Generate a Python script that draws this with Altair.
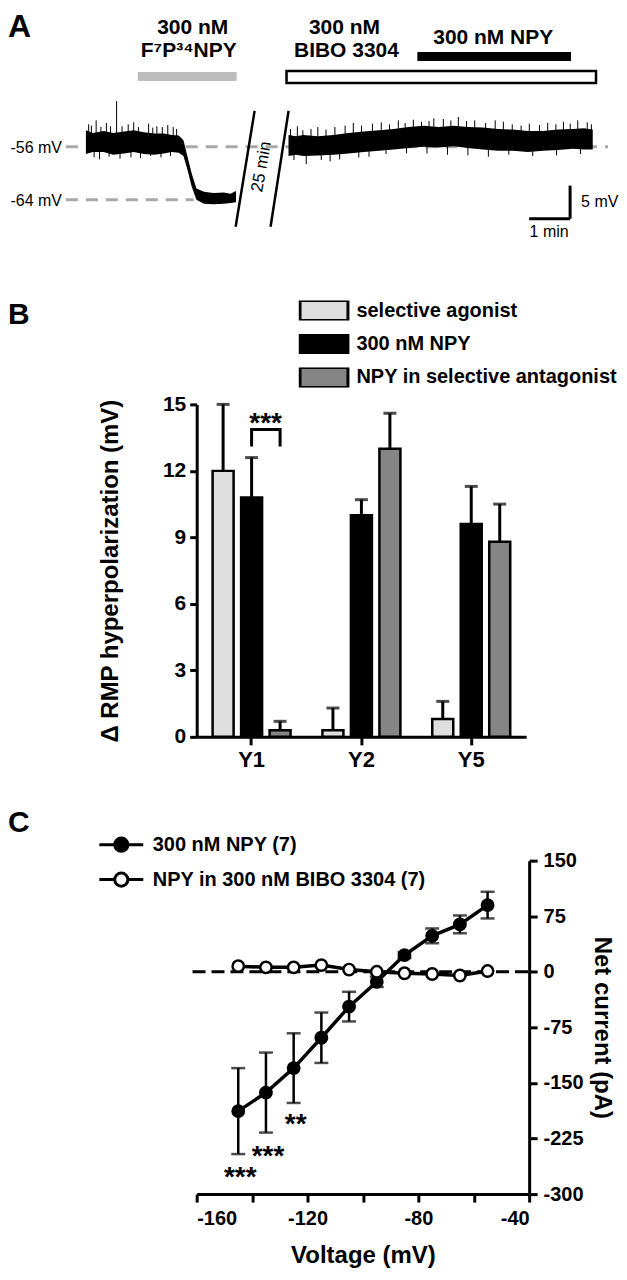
import altair as alt
import pandas as pd

FONT = "Liberation Sans, Arial, Helvetica, sans-serif"

# ---------------- Panel A: membrane potential trace ----------------
# display time (s) and upper / lower envelope of the noisy trace (mV)
seg1_t = [0, 10, 26, 40, 56, 70, 85, 100, 114, 126, 136, 143, 149, 155, 162, 173, 187, 202, 212, 220]
seg1_hi = [-53.5, -53.9, -53.6, -53.9, -53.7, -53.5, -53.8, -54.0, -54.0, -54.2, -54.3, -55.0, -57.5, -60.0,
           -62.3, -62.8, -63.0, -62.9, -63.1, -62.7]
seg1_lo = [-57.1, -56.8, -56.8, -57.2, -57.0, -56.8, -57.1, -57.2, -57.0, -56.8, -56.9, -57.4, -59.5, -62.0,
           -64.0, -64.6, -64.7, -64.6, -64.5, -64.4]
seg2_t = [297, 308, 319, 340, 363, 385, 407, 430, 451, 473, 495, 517, 539, 560, 582, 604, 626, 648, 670, 692,
          714, 730, 743]
seg2_hi = [-54.2, -54.4, -54.2, -54.4, -54.2, -53.9, -53.7, -53.5, -53.3, -53.0, -52.8, -53.0, -52.8, -53.0,
           -53.1, -53.3, -53.4, -53.6, -53.6, -53.4, -53.3, -53.2, -53.4]
seg2_lo = [-57.4, -57.2, -57.4, -57.3, -57.2, -57.0, -56.8, -56.6, -56.4, -56.2, -56.0, -56.1, -55.9, -56.2,
           -56.4, -56.6, -56.6, -56.8, -56.6, -56.5, -56.3, -56.4, -56.4]
# noise spikes: time (s) and tip (mV)
spike_t = [4, 8, 15, 22, 30, 36, 45, 53, 62, 70, 77, 92, 98, 104, 112, 120, 128, 133,
           12, 20, 34, 50, 66, 80, 95, 110, 124,
           300, 310, 318, 330, 340, 352, 365, 380, 392, 404, 420, 433, 445, 458, 468, 480, 492, 503, 510,
           524, 535, 546, 558, 570, 586, 600, 612, 625, 638, 650, 665, 677, 689, 700, 710, 721, 735, 741,
           305, 323, 345, 358, 372, 400, 415, 440, 470, 500, 530, 560, 590, 620, 655, 690, 725]
spike_v = [-52.6, -52.8, -52.0, -53.0, -52.4, -52.9, -49.1, -52.9, -52.6, -52.3, -53.0, -52.5, -53.1, -52.9,
           -53.0, -52.7, -53.0, -53.3,
           -57.6, -57.9, -57.5, -57.8, -57.6, -57.7, -57.4, -57.6, -57.4,
           -53.3, -52.9, -53.5, -53.3, -53.0, -53.4, -53.0, -52.8, -52.4, -52.8, -52.5, -52.3, -52.6, -52.0,
           -52.4, -51.9, -52.2, -52.1, -51.7, -51.8, -52.0, -51.5, -52.1, -52.0, -52.4, -52.0, -52.2, -52.6,
           -52.8, -52.5, -52.7, -52.4, -52.6, -52.2, -52.5, -52.0, -52.3, -52.6,
           -58.0, -58.6, -58.0, -58.2, -57.9, -57.6, -57.5, -57.1, -57.0, -57.0, -57.2, -57.3, -57.5, -57.2,
           -57.4, -57.3, -57.1]
ref_levels = [-56, -64]
ref_end_t = [765.4, 158]
agonist_t = [76.1, 221.0]      # 300 nM F7P34NPY application
bibo_t = [294.1, 747.8]        # 300 nM BIBO 3304
npy_t = [485.9, 711.2]         # 300 nM NPY
break_t = [[219.5, 247.3], [270.7, 297.1]]
break_v = [-68.08, -50.57]
scalebar_t = [649.8, 709.8]    # 1 min
scalebar_v = [-66.87, -61.87]  # 5 mV

# ---------------- Panel B: bar chart ----------------
receptors = ["Y1", "Y2", "Y5"]
groups = ["selective agonist", "300 nM NPY", "NPY in selective antagonist"]
agonist_mean = [12.0, 0.3, 0.8]
agonist_sem = [3.0, 1.0, 0.8]
npy_mean = [10.8, 10.0, 9.6]
npy_sem = [1.8, 0.7, 1.7]
antag_mean = [0.3, 13.0, 8.8]
antag_sem = [0.4, 1.6, 1.7]
group_colors = ["#dedede", "#000000", "#858585"]

# ---------------- Panel C: I-V curve ----------------
voltage = [-145, -135, -125, -115, -105, -95, -85, -75, -65, -55]
npy_i = [-188, -163, -130, -89, -47, -13.5, 22.5, 48.5, 64, 90]
npy_se = [58, 54, 47, 34, 20, 7, 4, 10, 12, 18]
bibo_i = [7.6, 6, 6, 9, 3, 0, -2, -3, -5, 1]
series = ["300 nM NPY (7)", "NPY in 300 nM BIBO 3304 (7)"]
star_v = [-145, -135, -125]
star_i = [-269.5, -240, -198]
star_txt = ["***", "***", "**"]

one = pd.DataFrame({"k": [0]})
NOVIEW = alt.ViewBackground(strokeWidth=0, stroke="transparent")

# ======================= Panel A =======================
W_A, H_A = 412, 232
T0, T1 = 162.4, 765.4
V0, V1 = -70.19, -35.17
sx = alt.Scale(domain=[T0, T1], nice=False, zero=False)
sy = alt.Scale(domain=[V0, V1], nice=False, zero=False)


def X(f):
    return alt.X(f, type="quantitative", scale=sx, axis=None)


def Y(f):
    return alt.Y(f, type="quantitative", scale=sy, axis=None)


trace = pd.DataFrame({
    "seg": ["a"] * len(seg1_t) + ["b"] * len(seg2_t),
    "t": seg1_t + seg2_t,
    "hi": seg1_hi + seg2_hi,
    "lo": seg1_lo + seg2_lo,
})
spikes = pd.DataFrame({"t": spike_t, "v": spike_v})
refl = pd.DataFrame({"t": [-29.3, -29.3], "t2": ref_end_t, "v": ref_levels})
breaks = pd.DataFrame({"t": [b[0] for b in break_t], "t2": [b[1] for b in break_t],
                       "v": [break_v[0]] * 2, "v2": [break_v[1]] * 2})
sbar = pd.DataFrame({"t": [scalebar_t[0], scalebar_t[1]], "t2": [scalebar_t[1], scalebar_t[1]],
                     "v": [scalebar_v[0], scalebar_v[0]], "v2": [scalebar_v[0], scalebar_v[1]]})

a_ref = alt.Chart(refl).mark_rule(color="#a8a8a8", strokeWidth=3, strokeDash=[12, 8]).encode(
    x=X("t"), x2="t2", y=Y("v"))
a_trace = alt.Chart(trace).mark_area(color="black", interpolate="linear").encode(
    x=X("t"), y=Y("hi"), y2="lo", detail="seg:N")
a_spk = alt.Chart(spikes).mark_rule(color="black", strokeWidth=1).encode(
    x=X("t"), y=Y("v"), y2=alt.datum(-55.4))
a_brk = alt.Chart(breaks).mark_rule(color="black", strokeWidth=2.5).encode(
    x=X("t"), x2="t2", y=Y("v"), y2="v2")
a_sb = alt.Chart(sbar).mark_rule(color="black", strokeWidth=3).encode(
    x=X("t"), x2="t2", y=Y("v"), y2="v2")
a_ag = alt.Chart(pd.DataFrame({"t": [agonist_t[0]], "t2": [agonist_t[1]]})).mark_rect(color="#bdbdbd").encode(
    x=X("t"), x2="t2", y=alt.value(63), y2=alt.value(72))
a_bibo = alt.Chart(pd.DataFrame({"t": [bibo_t[0]], "t2": [bibo_t[1]]})).mark_rect(
    fill="white", stroke="black", strokeWidth=2.5).encode(
    x=X("t"), x2="t2", y=alt.value(62), y2=alt.value(74))
a_npy = alt.Chart(pd.DataFrame({"t": [npy_t[0]], "t2": [npy_t[1]]})).mark_rect(color="black").encode(
    x=X("t"), x2="t2", y=alt.value(43), y2=alt.value(52))


def label(txt, x, y, size, weight="bold", align="center", angle=0, baseline="alphabetic"):
    kw = dict(text=txt, fontSize=size, fontWeight=weight, align=align, baseline=baseline,
              font=FONT, color="black")
    if angle:
        kw["angle"] = angle
        kw["baseline"] = "middle"
    return alt.Chart(one).mark_text(**kw).encode(x=alt.value(x), y=alt.value(y))


a_txt = [
    label("A", -189, 3, 32, align="left", baseline="top"),
    label("300 nM", -4, 8, 21, baseline="top"),
    label("F\u2077P\u00b3\u2074NPY", -8, 31, 21, baseline="top"),
    label("300 nM", 148, 8, 21, baseline="top"),
    label("BIBO 3304", 150, 31, 21, baseline="top"),
    label("300 nM NPY", 297, 18, 21, baseline="top"),
    label("-56 mV", -135, 144, 16, weight="normal", align="right"),
    label("-64 mV", -135, 197, 16, weight="normal", align="right"),
    label("25 min", 65, 158, 17, weight="normal", angle=280),
    label("5 mV", 385, 198, 16, weight="normal", align="left"),
    label("1 min", 353, 228, 16, weight="normal"),
]

panelA = alt.layer(a_ref, a_trace, a_spk, a_brk, a_sb, a_ag, a_bibo, a_npy, *a_txt).properties(
    width=W_A, height=H_A, view=NOVIEW)

# ======================= Panel B =======================
rowsB = []
for gi, (m, s) in enumerate([(agonist_mean, agonist_sem), (npy_mean, npy_sem), (antag_mean, antag_sem)]):
    for ri, r in enumerate(receptors):
        rowsB.append({"receptor": r, "group": groups[gi], "mean": m[ri], "top": m[ri] + s[ri]})
dfB = pd.DataFrame(rowsB)

xB = alt.X("receptor:N", sort=receptors, title=None,
           scale=alt.Scale(paddingInner=0.29, paddingOuter=0.145),
           axis=alt.Axis(labelAngle=0, labelFontSize=22, labelFontWeight="bold", labelColor="black",
                         tickSize=8, tickWidth=3, tickColor="black", domainWidth=3, domainColor="black",
                         labelPadding=5, labelFont=FONT))
xoB = alt.XOffset("group:N", sort=groups, scale=alt.Scale(domain=groups, paddingInner=0.263, paddingOuter=0))
yScaleB = alt.Scale(domain=[0, 15], nice=False)
yB = alt.Y("mean:Q", scale=yScaleB, title="\u0394 RMP hyperpolarization (mV)",
           axis=alt.Axis(values=[0, 3, 6, 9, 12, 15], grid=False, labelFontSize=21, labelFontWeight="bold",
                         labelColor="black", tickSize=7, tickWidth=3, tickColor="black", domainWidth=3,
                         domainColor="black", labelPadding=4, titleFontSize=24, titleFontWeight="bold",
                         titleColor="black", titlePadding=40, labelFont=FONT, titleFont=FONT))

b_bars = alt.Chart(dfB).mark_bar(stroke="black", strokeWidth=2.5).encode(
    x=xB, xOffset=xoB, y=yB,
    fill=alt.Fill("group:N", sort=groups, scale=alt.Scale(domain=groups, range=group_colors),
                  legend=alt.Legend(orient="none", legendX=102, legendY=-104, title=None,
                                    symbolType="M-1,-0.4167H1V0.4167H-1Z", symbolSize=2304,
                                    symbolStrokeColor="black", symbolStrokeWidth=3,
                                    labelFontSize=20, labelFontWeight="bold", labelColor="black",
                                    labelFont=FONT, labelOffset=7, clipHeight=20, rowPadding=13.5,
                                    padding=0, labelLimit=400)))
b_err = alt.Chart(dfB).mark_rule(color="black", strokeWidth=3).encode(
    x=xB, xOffset=xoB, y=alt.Y("mean:Q", scale=yScaleB), y2="top:Q")
b_cap = alt.Chart(dfB).mark_tick(color="black", thickness=3, size=13, orient="horizontal").encode(
    x=xB, xOffset=xoB, y=alt.Y("top:Q", scale=yScaleB))

bracket = pd.DataFrame({"receptor": ["Y1"] * 4,
                        "group": [groups[1], groups[1], groups[2], groups[2]],
                        "val": [13.1, 13.87, 13.87, 13.1], "o": [0, 1, 2, 3]})
b_brk = alt.Chart(bracket).mark_line(color="black", strokeWidth=3).encode(
    x=xB, xOffset=xoB, y=alt.Y("val:Q", scale=yScaleB), order="o:Q")
b_star = alt.Chart(pd.DataFrame({"receptor": ["Y1"], "group": [groups[1]], "val": [13.87]})).mark_text(
    text="***", fontSize=28, fontWeight="bold", font=FONT, dx=14, dy=3, baseline="alphabetic",
    color="black").encode(x=xB, xOffset=xoB, y=alt.Y("val:Q", scale=yScaleB))
b_letter = label("B", -189, -105, 30, align="left", baseline="top")

panelB = alt.layer(b_bars, b_err, b_cap, b_brk, b_star, b_letter).properties(width=330, height=333, view=NOVIEW)

# ======================= Panel C =======================
dfC = pd.DataFrame({
    "V": voltage * 2,
    "I": npy_i + bibo_i,
    "series": [series[0]] * len(voltage) + [series[1]] * len(voltage),
})
dfE = pd.DataFrame({"V": voltage, "lo": [m - s for m, s in zip(npy_i, npy_se)],
                    "hi": [m + s for m, s in zip(npy_i, npy_se)]})
dfS = pd.DataFrame({"V": star_v, "I": star_i, "txt": star_txt})

sxC = alt.Scale(domain=[-160, -40], nice=False, zero=False)
syC = alt.Scale(domain=[-300, 150], nice=False, zero=False)
xC = alt.X("V:Q", scale=sxC, title="Voltage (mV)",
           axis=alt.Axis(values=list(range(-160, -39, 20)), grid=False, labelExpr="'' + datum.value",
                         labelFontSize=20, labelFontWeight="bold", labelColor="black", labelFont=FONT,
                         tickSize=8, tickWidth=3, tickColor="black", domainWidth=3, domainColor="black",
                         labelPadding=6, titleFontSize=24, titleFontWeight="bold", titleColor="black",
                         titleFont=FONT, titlePadding=16))
yC = alt.Y("I:Q", scale=syC, title="Net current (pA)",
           axis=alt.Axis(orient="right", values=[150, 75, 0, -75, -150, -225, -300], grid=False,
                         labelExpr="'' + datum.value", labelFontSize=20, labelFontWeight="bold",
                         labelColor="black", labelFont=FONT, tickSize=8, tickWidth=3, tickColor="black",
                         domainWidth=3, domainColor="black", labelPadding=6, titleFontSize=24,
                         titleFontWeight="bold", titleColor="black", titleFont=FONT, titlePadding=6))

c_zero = alt.Chart(one).mark_rule(color="black", strokeWidth=3, strokeDash=[13, 6]).encode(
    x=alt.datum(-161.5, scale=sxC), x2=alt.datum(-40), y=alt.datum(0, scale=syC))
c_err = alt.Chart(dfE).mark_rule(color="black", strokeWidth=2.5).encode(
    x=alt.X("V:Q", scale=sxC), y=alt.Y("lo:Q", scale=syC), y2="hi:Q")
c_caps = alt.Chart(dfE).transform_fold(["lo", "hi"], as_=["k", "e"]).mark_tick(
    color="black", thickness=2.5, size=14, orient="horizontal").encode(
    x=alt.X("V:Q", scale=sxC), y=alt.Y("e:Q", scale=syC))
c_line = alt.Chart(dfC).mark_line(color="black", strokeWidth=3.5).encode(
    x=xC, y=yC, detail="series:N")
c_pts = alt.Chart(dfC).mark_point(filled=False, shape="circle", size=130, stroke="black",
                                  strokeWidth=2.5, opacity=1).encode(
    x=xC, y=yC,
    fill=alt.Fill("series:N", sort=series, scale=alt.Scale(domain=series, range=["black", "white"]),
                  legend=alt.Legend(orient="none", legendX=-99, legendY=-26, title=None,
                                    symbolType="M-1,0H-0.3M0.3,0H1M-0.3,0A0.3,0.3,0,1,0,0.3,0A0.3,0.3,0,1,0,-0.3,0",
                                    symbolSize=1936, symbolStrokeColor="black", symbolStrokeWidth=3,
                                    labelFontSize=20, labelFontWeight="bold", labelColor="black",
                                    labelFont=FONT, labelOffset=8, clipHeight=20, rowPadding=15,
                                    padding=0, labelLimit=400)))
c_star = alt.Chart(dfS).mark_text(fontSize=28, fontWeight="bold", font=FONT, baseline="alphabetic",
                                  dy=15, dx=2, color="black").encode(
    x=alt.X("V:Q", scale=sxC), y=alt.Y("I:Q", scale=syC), text="txt:N")
c_letter = label("C", -189, -53, 30, align="left", baseline="top")

panelC = alt.layer(c_zero, c_err, c_caps, c_line, c_pts, c_star, c_letter).properties(
    width=333, height=334, view=NOVIEW)

top = alt.vconcat(panelA, panelB, spacing=59).resolve_scale(fill="independent").resolve_legend(
    fill="independent")
chart = alt.vconcat(top, panelC, spacing=37).resolve_scale(fill="independent").resolve_legend(
    fill="independent").properties(padding=0).configure_view(strokeWidth=0, stroke="transparent").configure(
    font=FONT)

chart.save("out.html", embed_options={"renderer": "svg", "actions": False})
